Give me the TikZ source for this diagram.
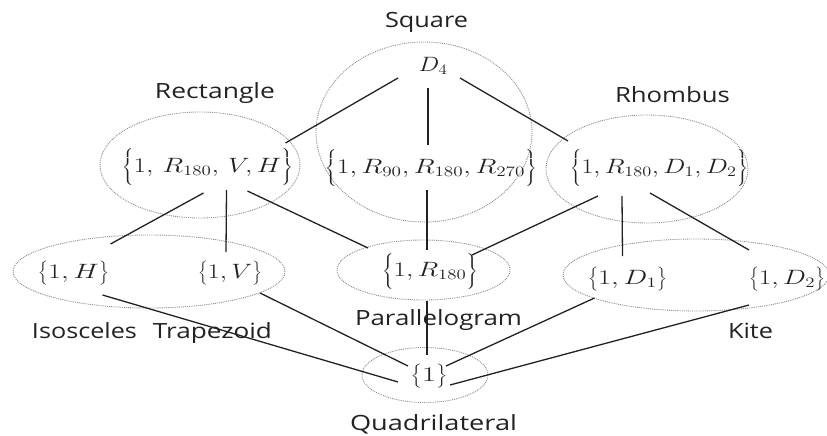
\documentclass[tikz,border=0pt]{standalone}
\usepackage[no-math]{fontspec}
\usepackage{graphicx}
\newfontfamily\labfamily{Open Sans}
\usetikzlibrary{shapes.geometric,calc}
\definecolor{ink}{HTML}{222222}
\definecolor{ovalgray}{HTML}{8A8A8A}
% #1 = target width in pt, #2 = text
\newcommand\labtxt[2]{\resizebox{#1pt}{\height}{\labfamily\fontsize{21}{25}\selectfont #2}}
\newcommand\mset[2]{\resizebox{#1pt}{\height}{\fontsize{20}{24}\selectfont$#2$}}
\newcommand\bigset[1]{\left\{\rule[-12pt]{0pt}{34pt}#1\right\}}
\newcommand\smallset[1]{\left\{\rule[-8pt]{0pt}{26pt}#1\right\}}
\begin{document}
\begin{tikzpicture}[x=1pt,y=-1pt,
  lab/.style={inner sep=0pt, anchor=base, text=ink},
  gset/.style={inner sep=0pt, text=ink},
  oval/.style={ellipse, draw=ovalgray, densely dotted, line width=0.9pt, inner sep=0pt},
  edge/.style={draw=ink, line width=1.3pt}]
\useasboundingbox (0,0) rectangle (827,436);
% ovals
\node[oval, minimum width=216pt, minimum height=180pt] (eSq) at (424,132) {};
\node[oval, minimum width=200pt, minimum height=106pt] (eRect) at (200,165) {};
\node[oval, minimum width=202pt, minimum height=108pt] (eRh) at (647,169) {};
\node[oval, minimum width=272pt, minimum height=73pt] (eIT) at (149,271.5) {};
\node[oval, minimum width=173pt, minimum height=60pt] (eP) at (423.5,270) {};
\node[oval, minimum width=266pt, minimum height=72pt] (eK) at (696,275) {};
\node[oval, minimum width=126pt, minimum height=55pt] (eQ) at (425,375) {};
% labels
\node[lab] (lSquare) at (426.5,28) {\labtxt{83}{Square}};
\node[lab] (lRect) at (215,98) {\labtxt{120}{Rectangle}};
\node[lab] (lRh) at (672.5,102) {\labtxt{115}{Rhombus}};
\node[lab] (lIso) at (84.5,338) {\labtxt{105}{Isosceles}};
\node[lab] (lTrap) at (212.5,338) {\labtxt{119}{Trapezoid}};
\node[lab] (lPar) at (438.5,325) {\labtxt{167}{Parallelogram}};
\node[lab] (lKite) at (750.5,338) {\labtxt{45}{Kite}};
\node[lab] (lQuad) at (433.5,430) {\labtxt{167}{Quadrilateral}};
% groups
\node[gset] (D4) at (433,66) {\mset{29}{D_4}};
\node[gset] (rectset) at (207.5,167) {\mset{171}{\bigset{1,\,R_{180},\,V,H}}};
\node[gset] (sqset) at (431,168) {\mset{212}{\bigset{1,R_{90},R_{180},R_{270}}}};
\node[gset] (rhset) at (659,168) {\mset{178}{\bigset{1,R_{180},D_1,D_2}}};
\node[gset] (Hset) at (73.5,273.5) {\mset{71}{\smallset{1,H}}};
\node[gset] (Vset) at (230,273.5) {\mset{64}{\smallset{1,V}}};
\node[gset] (Pset) at (430,271.5) {\mset{96}{\bigset{1,R_{180}}}};
\node[gset] (D1set) at (627.5,279) {\mset{79}{\smallset{1,D_1}}};
\node[gset] (D2set) at (787,279) {\mset{76}{\smallset{1,D_2}}};
\node[gset] (one) at (429,376) {\mset{37}{\smallset{1}}};
% connectors
\draw[edge] ($(D4)+(-35,12)$) -- ($(rectset)+(78,-24)$);
\draw[edge] ($(D4)+(-5,22)$) -- ($(sqset)+(-3,-23)$);
\draw[edge] ($(D4)+(27,12)$) -- ($(rhset)+(-91,-27)$);
\draw[edge] ($(rectset)+(-4,26)$) -- ($(Hset)+(37,-29.5)$);
\draw[edge] ($(rectset)+(19,23)$) -- ($(Vset)+(-4,-21.5)$);
\draw[edge] ($(rectset)+(40,24)$) -- ($(Pset)+(-62,-23.5)$);
\draw[edge] ($(sqset)+(-4,22)$) -- ($(Pset)+(-3,-21.5)$);
\draw[edge] ($(rhset)+(-61,28)$) -- ($(Pset)+(42,-16.5)$);
\draw[edge] ($(rhset)+(-37,28)$) -- ($(D1set)+(-5,-23)$);
\draw[edge] ($(rhset)+(-9,25)$) -- ($(D2set)+(-38,-29)$);
\draw[edge] ($(Pset)+(-3,29)$) -- ($(one)+(-2,-21)$);
\draw[edge] ($(Hset)+(29,21.5)$) -- ($(one)+(-31,6)$);
\draw[edge] ($(Vset)+(30,19.5)$) -- ($(one)+(-21,-10)$);
\draw[edge] ($(D1set)+(-33,19)$) -- ($(one)+(17,-10)$);
\draw[edge] ($(D2set)+(-38,26)$) -- ($(one)+(21,9)$);
\end{tikzpicture}
\end{document}
